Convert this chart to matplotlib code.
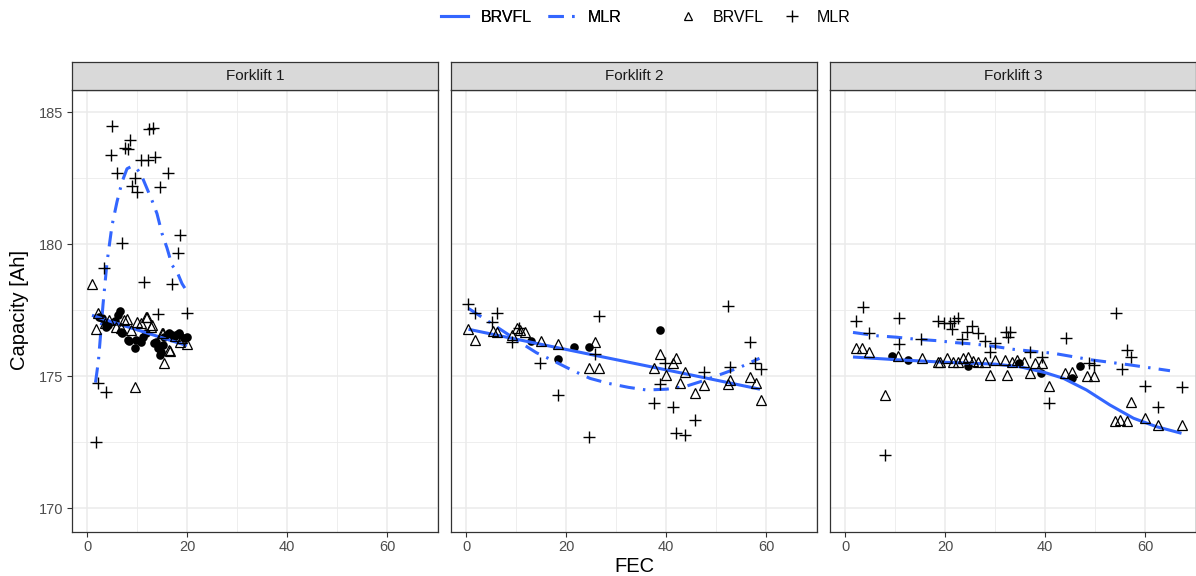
import matplotlib
matplotlib.use('Agg')
import matplotlib.pyplot as plt
from matplotlib.lines import Line2D
from matplotlib.ticker import MultipleLocator

plt.rcParams['font.family'] = ['Liberation Sans', 'DejaVu Sans']

# ---------------- data ----------------
panels = ["Forklift 1", "Forklift 2", "Forklift 3"]
x_ticks = [0, 20, 40, 60]
y_ticks = [170, 175, 180, 185]

# Forklift 1
f1_circ_fec = [2.4, 3.0, 3.5, 3.8, 4.2, 5.5, 6.1, 6.5, 6.7, 7.0, 8.1, 8.3, 9.5, 9.7, 10.7, 11.1, 11.7,
               13.4, 13.7, 14.1, 14.5, 14.8, 15.1, 15.4, 16.4, 17.0, 17.4, 18.3, 18.4, 19.4, 20.0]
f1_circ_cap = [177.25, 177.19, 177.06, 176.87, 176.93, 177.1, 177.31, 177.47, 176.68, 176.64, 176.36, 176.34,
               176.07, 176.36, 176.3, 176.49, 176.62, 176.24, 176.3, 176.05, 175.8, 175.9, 176.17, 176.49,
               176.62, 176.55, 176.49, 176.62, 176.6, 176.43, 176.47]
f1_tri_fec = [1.0, 1.7, 2.2, 3.5, 4.4, 5.7, 6.7, 7.4, 8.0, 8.7, 9.5, 10.0, 10.7, 11.7, 12.0, 12.7, 13.0,
              14.9, 15.1, 15.4, 16.4, 16.5, 17.5, 18.5, 19.0, 20.0]
f1_tri_cap = [178.48, 176.79, 177.37, 177.0, 177.12, 176.87, 176.8, 177.12, 177.15, 176.74, 174.6, 177.06,
              177.02, 177.25, 177.25, 176.87, 176.93, 176.62, 176.62, 175.5, 175.98, 175.96, 176.5, 176.3,
              176.45, 176.2]
f1_plus_fec = [1.7, 2.2, 3.3, 3.7, 4.7, 5.0, 5.9, 6.9, 7.5, 8.2, 8.5, 8.9, 9.5, 10.0, 10.7, 11.3, 12.1,
               12.3, 13.1, 13.6, 14.2, 14.6, 16.2, 17.0, 18.2, 18.5, 20.0]
f1_plus_cap = [172.49, 174.72, 179.1, 174.4, 183.36, 184.47, 182.68, 180.05, 183.65, 183.59, 183.94, 182.2,
               182.49, 181.96, 183.17, 178.57, 183.17, 184.34, 184.4, 183.3, 177.35, 182.15, 182.7, 178.47,
               179.65, 180.34, 177.37]
f1_brvfl_fec = [1.0, 5.0, 10.0, 15.0, 20.0]
f1_brvfl_cap = [177.3, 177.05, 176.75, 176.45, 176.15]
f1_mlr_fec = [1.7, 2.3, 3.2, 4.0, 5.0, 6.0, 7.0, 8.0, 9.0, 10.0, 11.0, 12.0, 13.0, 14.0, 15.0, 16.0,
              17.0, 18.0, 19.0, 20.0]
f1_mlr_cap = [174.75, 175.6, 177.7, 179.3, 180.7, 181.6, 182.35, 182.85, 182.95, 182.85, 182.55, 182.1,
              181.65, 181.15, 180.4, 179.85, 179.2, 178.95, 178.5, 178.2]

# Forklift 2
f2_circ_fec = [13.0, 18.3, 21.5, 24.5, 38.8]
f2_circ_cap = [176.33, 175.63, 176.09, 176.11, 176.74]
f2_tri_fec = [0.3, 1.7, 5.3, 6.1, 9.1, 10.1, 10.8, 11.7, 15.0, 18.3, 24.5, 25.8, 26.6, 37.5, 38.8, 40.0,
              41.3, 42.0, 42.7, 43.8, 45.8, 47.6, 52.3, 52.7, 56.7, 58.0, 59.0]
f2_tri_cap = [176.78, 176.36, 176.72, 176.68, 176.55, 176.8, 176.74, 176.68, 176.34, 176.21, 175.29, 176.28,
              175.29, 175.29, 175.83, 175.04, 175.48, 175.69, 174.75, 175.16, 174.37, 174.66, 174.7, 174.85,
              174.95, 174.75, 174.09]
f2_plus_fec = [0.3, 1.7, 5.1, 6.1, 9.1, 10.5, 14.8, 18.3, 24.5, 25.8, 26.6, 37.5, 38.8, 39.8, 41.3, 41.9,
               43.8, 45.7, 47.6, 52.3, 52.8, 56.7, 57.8, 59.0]
f2_plus_cap = [177.73, 177.39, 177.06, 177.4, 176.28, 176.8, 175.48, 174.28, 172.7, 175.83, 177.26, 173.99,
               174.68, 175.5, 173.84, 172.83, 172.77, 173.33, 175.14, 177.66, 175.33, 176.28, 175.5, 175.28]
f2_brvfl_fec = [0.5, 15.0, 30.0, 45.0, 58.8]
f2_brvfl_cap = [176.77, 176.2, 175.62, 175.04, 174.5]
f2_mlr_fec = [0.5, 3.5, 7.1, 11.1, 14.1, 17.1, 21.1, 24.8, 28.5, 32.5, 36.1, 40.1, 43.8, 46.8, 51.5,
              54.8, 58.7]
f2_mlr_cap = [177.56, 177.19, 176.74, 176.24, 175.88, 175.61, 175.23, 174.91, 174.72, 174.57, 174.47,
              174.5, 174.6, 174.78, 175.1, 175.33, 175.67]

# Forklift 3
f3_circ_fec = [9.4, 12.5, 24.6, 34.7, 39.1, 45.3, 47.0]
f3_circ_cap = [175.76, 175.61, 175.38, 175.5, 175.13, 174.94, 175.39]
f3_tri_fec = [2.1, 3.4, 4.7, 8.0, 10.6, 15.3, 18.6, 19.0, 20.3, 21.6, 22.6, 23.6, 24.6, 25.6, 26.6, 27.9,
              28.9, 29.9, 32.0, 32.3, 33.3, 34.3, 35.7, 37.0, 38.0, 39.3, 40.7, 44.0, 45.3, 48.3, 49.7,
              54.0, 55.0, 56.3, 57.2, 60.0, 62.5, 67.3]
f3_tri_cap = [176.05, 176.05, 175.92, 174.28, 175.76, 175.67, 175.54, 175.54, 175.67, 175.54, 175.54,
              175.67, 175.73, 175.57, 175.54, 175.54, 175.04, 175.61, 175.61, 175.04, 175.54, 175.61,
              175.54, 175.1, 175.48, 175.48, 174.62, 175.1, 175.16, 175.0, 175.0, 173.31, 173.33, 173.31,
              174.03, 173.4, 173.14, 173.14]
f3_plus_fec = [2.1, 3.6, 4.7, 8.0, 10.7, 10.7, 15.1, 18.6, 19.8, 20.9, 21.3, 21.8, 22.5, 23.4, 24.3, 25.3,
               26.5, 27.9, 28.9, 29.9, 32.2, 33.0, 32.5, 37.0, 39.3, 40.7, 44.2, 48.7, 49.7, 54.2, 55.3,
               56.3, 57.2, 60.0, 62.5, 67.3]
f3_plus_cap = [177.1, 177.6, 176.64, 172.0, 177.19, 176.21, 176.39, 177.1, 177.0, 177.0, 176.77, 177.1,
               177.19, 176.39, 176.68, 176.89, 176.62, 176.34, 175.92, 176.26, 176.68, 176.68, 176.49,
               175.92, 175.73, 173.97, 176.43, 175.5, 175.42, 177.37, 175.25, 175.98, 175.71, 174.62,
               173.84, 174.6]
f3_brvfl_fec = [1.6, 10.0, 20.0, 30.0, 35.0, 40.0, 43.7, 48.3, 53.0, 57.7, 62.3, 67.3]
f3_brvfl_cap = [175.72, 175.62, 175.52, 175.45, 175.35, 175.13, 174.91, 174.47, 173.9, 173.4, 173.08, 172.83]
f3_mlr_fec = [1.6, 6.6, 10.3, 14.3, 18.3, 22.3, 25.9, 30.3, 33.7, 41.7, 49.3, 57.0, 65.0]
f3_mlr_cap = [176.65, 176.52, 176.47, 176.39, 176.34, 176.26, 176.21, 176.11, 176.01, 175.86, 175.61,
              175.42, 175.2]

circ_fec = [f1_circ_fec, f2_circ_fec, f3_circ_fec]
circ_cap = [f1_circ_cap, f2_circ_cap, f3_circ_cap]
tri_fec = [f1_tri_fec, f2_tri_fec, f3_tri_fec]
tri_cap = [f1_tri_cap, f2_tri_cap, f3_tri_cap]
plus_fec = [f1_plus_fec, f2_plus_fec, f3_plus_fec]
plus_cap = [f1_plus_cap, f2_plus_cap, f3_plus_cap]
brvfl_fec = [f1_brvfl_fec, f2_brvfl_fec, f3_brvfl_fec]
brvfl_cap = [f1_brvfl_cap, f2_brvfl_cap, f3_brvfl_cap]
mlr_fec = [f1_mlr_fec, f2_mlr_fec, f3_mlr_fec]
mlr_cap = [f1_mlr_cap, f2_mlr_cap, f3_mlr_cap]

# ---------------- style ----------------
BLUE = '#3366FF'
BORDER = '#333333'
GRID = '#EBEBEB'
TICKC = '#4D4D4D'
LW = 2.2
DASHDOT = (5, 2.7, 0.8, 2.7)

W, H = 1196, 576
fig = plt.figure(figsize=(W / 100, H / 100), dpi=100)


def rect(x0, y0, x1, y1):
    return [x0 / W, 1 - y1 / H, (x1 - x0) / W, (y1 - y0) / H]


PW = 366
STEP = 379
TOP, BOT = 90, 532
for i, name in enumerate(panels):
    left = 72 + STEP * i
    ax = fig.add_axes(rect(left, TOP, left + PW, BOT))
    ax.set_xlim(-3.0, -3.0 + PW / 5.0)
    ax.set_ylim(170 - (BOT - 508) / 26.4, 185 + (112 - TOP) / 26.4)
    ax.xaxis.set_major_locator(MultipleLocator(20))
    ax.xaxis.set_minor_locator(MultipleLocator(10))
    ax.yaxis.set_major_locator(MultipleLocator(5))
    ax.yaxis.set_minor_locator(MultipleLocator(2.5))
    ax.grid(which='major', color=GRID, lw=1.1, zorder=0)
    ax.grid(which='minor', color=GRID, lw=0.6, zorder=0)
    ax.set_axisbelow(True)
    for s in ax.spines.values():
        s.set_color(BORDER)
        s.set_linewidth(0.9)
    ax.tick_params(which='minor', length=0)
    ax.tick_params(which='major', length=3.5, color=BORDER, width=0.8, labelcolor=TICKC,
                   labelsize=10.5, pad=2.5)
    ax.set_xticks(x_ticks)
    ax.set_yticks(y_ticks)
    if i != 0:
        ax.tick_params(axis='y', which='both', left=False, labelleft=False)

    ax.plot(circ_fec[i], circ_cap[i], 'o', ms=6.2, color='black', mew=0, zorder=2)
    ax.plot(brvfl_fec[i], brvfl_cap[i], color=BLUE, lw=LW, solid_capstyle='butt', zorder=3)
    ax.plot(mlr_fec[i], mlr_cap[i], color=BLUE, lw=LW, dashes=DASHDOT, zorder=3)
    ax.plot(tri_fec[i], tri_cap[i], '^', ms=6.8, mfc='none', mec='black', mew=0.9, zorder=4)
    ax.plot(plus_fec[i], plus_cap[i], '+', ms=8.5, color='black', mew=1.0, zorder=4)

    sax = fig.add_axes(rect(left, 62, left + PW, TOP))
    sax.set_facecolor('#D9D9D9')
    sax.set_xticks([])
    sax.set_yticks([])
    for s in sax.spines.values():
        s.set_color(BORDER)
        s.set_linewidth(0.9)
    sax.text(0.5, 0.5, name, ha='center', va='center', fontsize=11, color='#1A1A1A',
             transform=sax.transAxes)

fig.text((72 + 72 + STEP * 2 + PW) / 2 / W, 1 - 566 / H, 'FEC', ha='center', va='center',
         fontsize=14.5, color='black')
fig.text(20 / W, 1 - 310 / H, 'Capacity [Ah]', ha='center', va='center', rotation=90,
         fontsize=14.5, color='black')

h1 = [Line2D([], [], color=BLUE, lw=LW),
      Line2D([], [], color=BLUE, lw=LW, dashes=DASHDOT)]
leg1 = fig.legend(h1, ['BRVFL', 'MLR'], loc='center', bbox_to_anchor=(531 / W, 1 - 17 / H),
                  ncol=2, frameon=False, fontsize=11.5, handlelength=1.7, columnspacing=1.0,
                  handletextpad=0.8)
h2 = [Line2D([], [], marker='^', ls='none', ms=5.5, mfc='none', mec='black', mew=0.9),
      Line2D([], [], marker='+', ls='none', ms=8, color='black', mew=1.0)]
leg2 = fig.legend(h2, ['BRVFL', 'MLR'], loc='center', bbox_to_anchor=(763 / W, 1 - 17 / H),
                  ncol=2, frameon=False, fontsize=11.5, handlelength=1.5, columnspacing=1.0,
                  handletextpad=0.8)
fig.add_artist(leg1)

fig.savefig('out.png', dpi=100)
